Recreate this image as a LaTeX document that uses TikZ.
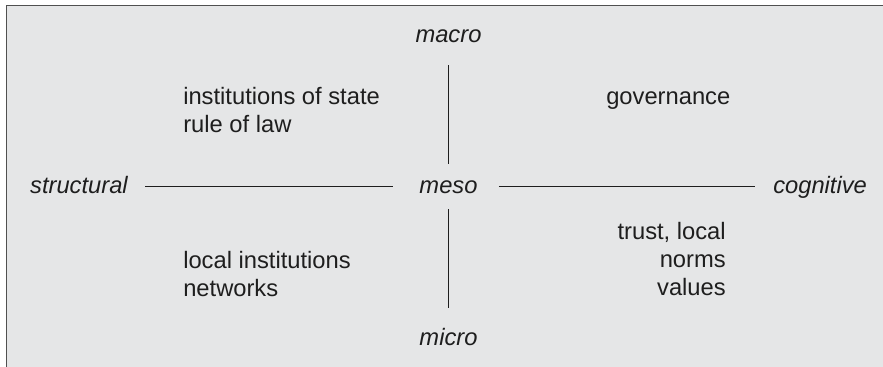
\documentclass[tikz,border=0pt]{standalone}
\usepackage{fontspec}
\setmainfont{Liberation Sans}
\usepackage{xcolor}
\usepackage{tikz}
\usetikzlibrary{positioning}
\definecolor{panelgray}{HTML}{E5E6E7}
\definecolor{framegray}{HTML}{505050}
\definecolor{inkgray}{HTML}{1E1E1E}
\tikzstyle{axislabel} = [inner sep=0pt, text=inkgray, font=\fontsize{17.8}{21}\selectfont\itshape]
\tikzstyle{quadrant} = [inner sep=0pt, text=inkgray, font=\fontsize{17.8}{21}\selectfont]
\tikzstyle{axis} = [draw, inkgray, line width=0.8pt]

\begin{document}
\begin{tikzpicture}[x=0.75pt, y=-0.75pt]
    \useasboundingbox (0,0) rectangle (883,367);
    \path [fill=panelgray, draw=framegray, line width=1.2pt] (6.5,5.5) rectangle (895,380);
    % Place nodes
    \node [axislabel, anchor=base] (meso) at (448.5,194) {meso};
    \node [axislabel, anchor=base] (macro) at (448.5,43) {macro};
    \node [axislabel, anchor=base] (micro) at (448.5,345) {micro};
    \node [axislabel, anchor=base east] (structural) at (128,194) {structural};
    \node [axislabel, anchor=base west] (cognitive) at (773,194) {cognitive};

    \node [quadrant, anchor=base west, align=left] (state) at (183,133) {institutions of state\\rule of law};
    \node [quadrant, anchor=base west] (governance) at (606,105) {governance};
    \node [quadrant, anchor=base west, align=left] (local) at (183,297) {local institutions\\networks};
    \node [quadrant, anchor=base east, align=right] (trust) at (726,296) {trust, local\\norms\\values};

    % Draw edges
    \path [axis, shorten <=16.5pt, shorten >=12.5pt] (macro.south) -- (meso.north);
    \path [axis, shorten <=11pt, shorten >=15pt] (meso.south) -- (micro.north);
    \path [axis, shorten <=12.75pt, shorten >=20pt] ([yshift=3pt]structural.mid east) -- ([yshift=3pt]meso.mid west);
    \path [axis, shorten <=15.75pt, shorten >=13.5pt] ([yshift=3pt]meso.mid east) -- ([yshift=3pt]cognitive.mid west);
\end{tikzpicture}
\end{document}
